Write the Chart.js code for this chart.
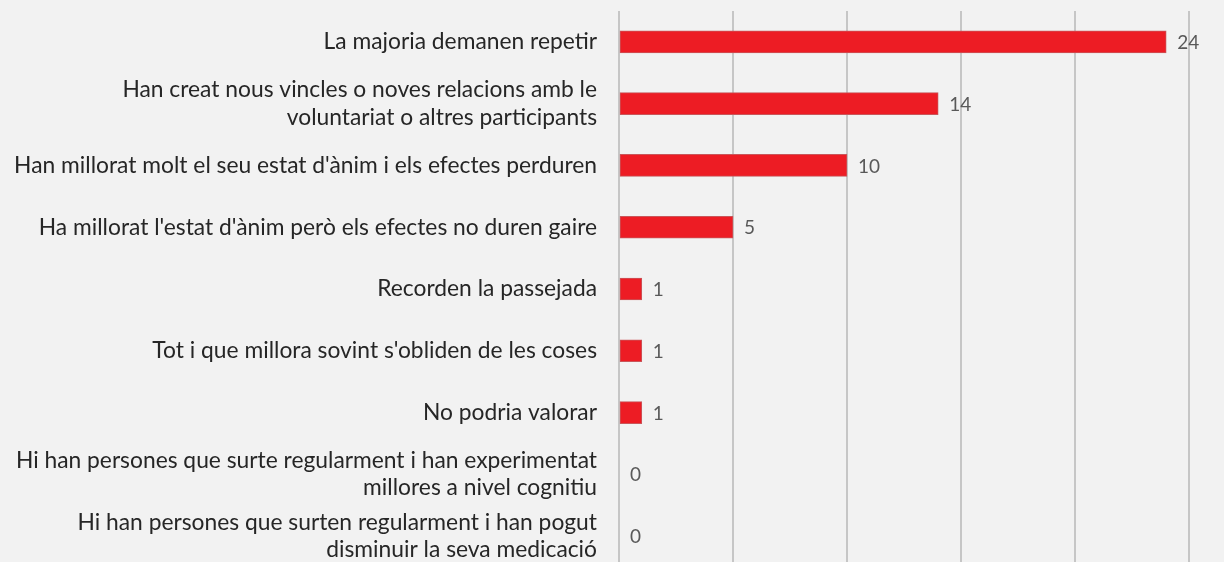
<!DOCTYPE html>
<html>
<head>
<meta charset="utf-8">
<script src="https://cdn.jsdelivr.net/npm/chart.js@4.4.1/dist/chart.umd.min.js"></script>
<style>
  html, body { margin: 0; padding: 0; background: #f2f2f2; overflow: hidden; }
  #wrap { position: relative; width: 1224px; height: 570px; }
</style>
</head>
<body>
<div id="wrap"><canvas id="chart"></canvas></div>
<script>
// categories (multi-line where the original wraps)
const categories = [
  'La majoria demanen repetir',
  ['Han creat nous vincles o noves relacions amb le', 'voluntariat o altres participants'],
  "Han millorat molt el seu estat d'ànim i els efectes perduren",
  "Ha millorat l'estat d'ànim però els efectes no duren gaire",
  'Recorden la passejada',
  "Tot i que millora sovint s'obliden de les coses",
  'No podria valorar',
  ['Hi han persones que surte regularment i han experimentat', 'millores a nivel cognitiu'],
  ['Hi han persones que surten regularment i han pogut', 'disminuir la seva medicació']
];
const values = [24, 14, 10, 5, 1, 1, 1, 0, 0];
const xTicks = [0, 5, 10, 15, 20, 25];

const FONT = 'Lato, "Noto Sans", sans-serif';

// value labels after each bar
const valueLabels = {
  id: 'valueLabels',
  afterDatasetsDraw(chart) {
    const ctx = chart.ctx;
    const meta = chart.getDatasetMeta(0);
    ctx.save();
    ctx.font = '19px ' + FONT;
    ctx.fillStyle = '#595959';
    ctx.textAlign = 'left';
    ctx.textBaseline = 'middle';
    meta.data.forEach((bar, i) => {
      ctx.fillText(String(values[i]), bar.x + 11, bar.y + 1);
    });
    ctx.restore();
  }
};

new Chart(document.getElementById('chart'), {
  type: 'bar',
  data: {
    labels: categories,
    datasets: [{
      data: values,
      backgroundColor: '#ed1c24',
      borderColor: '#c9565a',
      borderWidth: 1,
      borderSkipped: false,
      barThickness: 22
    }]
  },
  options: {
    indexAxis: 'y',
    responsive: true,
    maintainAspectRatio: false,
    animation: false,
    layout: { padding: { top: 11, right: 35, bottom: 3, left: 0 } },
    plugins: { legend: { display: false }, tooltip: { enabled: false } },
    scales: {
      x: {
        min: 0,
        max: 25,
        afterBuildTicks(axis) { axis.ticks = xTicks.map(v => ({ value: v })); },
        afterFit(axis) { axis.height = 0; axis.paddingLeft = 0; axis.paddingRight = 0; },
        grid: { color: '#c6c6c6', lineWidth: 2, drawTicks: false },
        border: { display: false },
        ticks: { display: false }
      },
      y: {
        grid: { display: false },
        border: { display: false },
        afterFit(axis) { axis.width = 619; axis.paddingTop = 0; axis.paddingBottom = 0; },
        ticks: {
          color: '#262626',
          padding: 14,
          autoSkip: false,
          font: { family: FONT, size: 22.8 },
          lineHeight: 1.1
        }
      }
    }
  },
  plugins: [valueLabels]
});
</script>
</body>
</html>
